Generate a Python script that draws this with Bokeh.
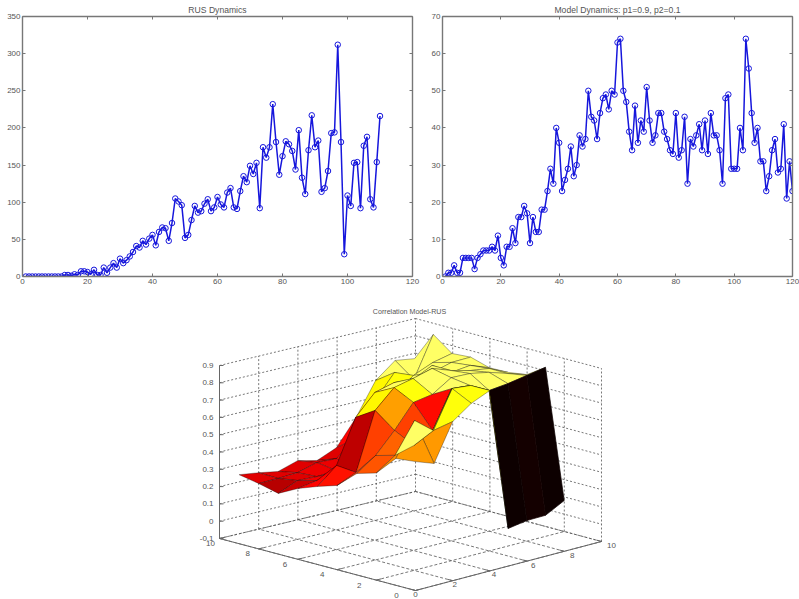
from bokeh.plotting import figure
from bokeh.layouts import column, row
from bokeh.models import LinearAxis, Range1d, FixedTicker
from bokeh.core.properties import value
from bokeh.embed import file_html
from bokeh.resources import INLINE
import numpy as np

FONT = "Liberation Sans"
TXT = "#555555"
AX = "#777777"
BLUE = "#1616dc"
nan = float("nan")

# ---- data -----------------------------------------------------------
rus = [0,0,0,0,0,0,0,0,0,0,0,0,2,2,1,3,2,7,7,6,3,9,2,2,12,5,12,18,12,24,18,22,27,33,41,39,48,43,51,56,
       42,60,66,65,48,72,105,101,96,52,56,76,95,86,88,98,104,88,93,107,97,93,113,119,93,91,115,135,127,149,
       138,153,92,174,160,174,232,181,137,162,182,178,169,144,197,133,111,170,217,174,183,114,119,142,193,194,312,181,30,109,
       95,153,154,92,176,188,104,93,154,216]
model = [0,1,1,3,1,1,5,5,5,5,2,5,6,7,7,7,8,7,11,5,3,8,8,13,9,16,16,19,17,9,16,12,12,18,18,23,29,25,40,36,
         23,26,29,35,27,30,38,35,37,50,43,42,37,44,48,49,45,50,49,63,64,50,47,39,34,46,36,42,39,51,
         42,36,38,44,44,39,37,34,33,44,32,34,43,25,37,35,38,41,34,42,33,44,38,38,34,25,48,49,29,29,
         29,40,34,64,56,44,36,40,31,31,23,27,34,37,28,29,41,21,31,23]

# surface heights: one list per y = 9 ... 0, columns x = 0 ... 9
z_y9 = [.299,.283,.263,.298,.272,.319,.466,.652,.741,.724]
z_y8 = [.278,.28,.286,.317,.312,.40,.594,.728,.66,.893]
z_y7 = [.251,.298,.293,.30,.274,.419,.65,.74,.787,.812]
z_y6 = [.309,.328,.347,.365,.447,.593,.738,.786,.817,.82]
z_y5 = [.351,.445,.695,.811,.84,.83,.884,.816,.829,.788]
z_y4 = [.387,.434,.765,.869,.894,.924,.884,.856,.84,.79]
z_y3 = [.486,.562,.679,.813,.831,.90,.896,.875,.84,.806]
z_y2 = [.519,.593,.622,.68,.894,.884,.827,.839,.858,.877]
z_y1 = [.633,.824,.738,.953,.942,.885,.059,.077,.079,.136]
z_y0 = [.645,.606,.82,.897,.943,nan,nan,nan,nan,nan]

# facet colour levels (0-1 on the hot map): rows y = 8 ... 0, columns x = 0 ... 8
c_y8 = [.33,.33,.33,.33,.33,.38,.74,.85,.85]
c_y7 = [.27,.33,.35,.35,.36,.5,.76,.85,.85]
c_y6 = [.3,.36,.36,.38,.45,.6,.85,.85,.85]
c_y5 = [.38,.38,.38,.4,.6,.85,.85,.85,.85]
c_y4 = [.4,.28,.74,.84,.85,.85,.85,.85,.85]
c_y3 = [.47,.47,.61,.76,.85,.85,.85,.85,.85]
c_y2 = [.5,.52,.47,.39,.85,.85,.85,.85,.85]
c_y1 = [.58,.85,.76,.76,.76,.76,.02,.03,.02]
c_y0 = [.6,.6,.76,.76,nan,nan,nan,nan,nan]

xticks2d = [0,20,40,60,80,100,120]
yticks_rus = [0,50,100,150,200,250,300,350]
yticks_model = [0,10,20,30,40,50,60,70]
ticks3d = [0,2,4,6,8,10]
zticks = [-0.1,0,0.1,0.2,0.3,0.4,0.5,0.6,0.7,0.8,0.9]

# ---- 2-D panels ------------------------------------------------------
def panel(series, yt, ymax, title, w, left, right):
    p = figure(width=w, height=295, x_range=Range1d(0,120), y_range=Range1d(0,ymax),
               output_backend="svg", toolbar_location=None, title=title,
               min_border_left=left, min_border_right=right, min_border_top=16, min_border_bottom=19,
               outline_line_color=None, background_fill_color="white", border_fill_color="white")
    p.title.align = "center"
    p.title.text_font = FONT
    p.title.text_font_size = "8.6px"
    p.title.text_font_style = "normal"
    p.title.text_color = TXT
    p.title.standoff = 4
    p.xgrid.visible = False
    p.ygrid.visible = False
    for ax, t in ((p.xaxis[0], xticks2d), (p.yaxis[0], yt)):
        ax.ticker = FixedTicker(ticks=t)
        ax.major_tick_in, ax.major_tick_out, ax.minor_tick_line_color = 3, 0, None
        ax.axis_line_color = AX
        ax.axis_line_width = 1.4
        ax.major_tick_line_color = AX
        ax.major_label_text_font = FONT
        ax.major_label_text_font_size = "8px"
        ax.major_label_text_color = TXT
        ax.major_label_standoff = 2
    for side, t in (("right", yt), ("above", xticks2d)):
        a = LinearAxis(ticker=FixedTicker(ticks=t), major_tick_in=3, major_tick_out=0,
                       minor_tick_line_color=None, axis_line_color=AX, axis_line_width=1.4,
                       major_tick_line_color=AX, major_label_overrides={v: "" for v in t},
                       major_label_standoff=0)
        p.add_layout(a, side)
    xs = list(range(1, len(series)+1))
    p.line(xs, series, line_color=BLUE, line_width=1.5)
    p.scatter(xs, series, size=5.5, marker="circle", fill_color=None, line_color=BLUE, line_width=1)
    return p

p1 = panel(rus, yticks_rus, 350, "RUS Dynamics", 425, 22, 13)
p2 = panel(model, yticks_model, 70, "Model Dynamics: p1=0.9, p2=0.1", 374, 17, 7)

# ---- 3-D panel -------------------------------------------------------
def proj(x, y, z):
    """Screen position of a point of the box (the view of the original plot)."""
    x, y, z = np.asarray(x, float), np.asarray(y, float), np.asarray(z, float)
    sx = 415 + 18.6*x - 19.6*y + 0.1*x*y
    sy = 590 - 4.9*x - 5.2*y + 0.02*x*y - 173*(z + 0.1)
    return sx, sy

p3 = figure(width=799, height=304, x_range=Range1d(0,799), y_range=Range1d(599,295),
            output_backend="svg", toolbar_location=None, outline_line_color=None,
            min_border=0, background_fill_color="white", border_fill_color="white")
p3.axis.visible = False
p3.grid.visible = False

zmin, zmax = zticks[0], zticks[-1]
def seg(a, b):
    sx, sy = proj([a[0], b[0]], [a[1], b[1]], [a[2], b[2]])
    return list(sx), list(sy)

wall, floor = [], []
for z in zticks:
    wall += [seg((0,10,z),(10,10,z)), seg((10,10,z),(10,0,z))]
for t in ticks3d[1:]:
    wall.append(seg((t,10,zmin),(t,10,zmax)))
for t in ticks3d[:-1]:
    wall.append(seg((10,t,zmin),(10,t,zmax)))
for t in ticks3d:
    floor += [seg((t,0,zmin),(t,10,zmin)), seg((0,t,zmin),(10,t,zmin))]
p3.multi_line([s[0] for s in wall], [s[1] for s in wall], line_color="#555555", line_width=0.8, line_dash="2 2")
p3.multi_line([s[0] for s in floor], [s[1] for s in floor], line_color="#555555", line_width=0.8, line_dash="3 2")

# solid axes and ticks
ax_segs = [seg((0,10,zmin),(0,10,zmax)), seg((0,10,zmin),(0,0,zmin)), seg((0,0,zmin),(10,0,zmin))]
for z in zticks:
    sx, sy = proj(0,10,z)
    ax_segs.append(([float(sx), float(sx)+4], [float(sy), float(sy)]))
for t in ticks3d:
    ax_segs.append(seg((0,t,zmin),(0.25,t,zmin)))
    ax_segs.append(seg((t,0,zmin),(t,0.25,zmin)))
p3.multi_line([s[0] for s in ax_segs], [s[1] for s in ax_segs], line_color="#666666", line_width=1)

# surface
Z = np.array([z_y0, z_y1, z_y2, z_y3, z_y4, z_y5, z_y6, z_y7, z_y8, z_y9])   # index [y, x]
C = np.array([c_y0, c_y1, c_y2, c_y3, c_y4, c_y5, c_y6, c_y7, c_y8])

def hot(t):
    r = min(1, t/.375); g = min(1, max(0, (t-.375)/.375)); b = min(1, max(0, (t-.75)/.25))
    return "#%02x%02x%02x" % (int(r*255), int(g*255), int(b*255))

top_facets = [(1, 1), (1, 2)]   # (y, x): the fold that hangs in front of the orange facets
cells = sorted(((j, i) for j in range(C.shape[0]) for i in range(C.shape[1]) if not np.isnan(C[j,i])),
               key=lambda c: (c in top_facets, -(c[0]+c[1])))
xs, ys, cols, edge, edge_a = [], [], [], [], []
for j, i in cells:
    gx = [i, i+1, i+1, i]
    gy = [j, j, j+1, j+1]
    gz = [Z[j,i], Z[j,i+1], Z[j+1,i+1], Z[j+1,i]]
    sx, sy = proj(gx, gy, gz)
    xs.append(list(sx)); ys.append(list(sy)); cols.append(hot(C[j,i]))
    dark = C[j,i] < 0.1
    edge.append(hot(C[j,i]) if dark else "#000000")
    edge_a.append(1.0 if dark else 0.45)
p3.patches(xs=xs, ys=ys, fill_color=cols, line_color=edge, line_alpha=edge_a, line_width=0.7)

# texts
def labels(px, py, txt, align):
    p3.text(px, py, text=txt, text_font=value(FONT), text_font_size=value("8px"), text_color=TXT,
            text_align=align, text_baseline="middle")

sx, sy = proj([0]*len(zticks), [10]*len(zticks), zticks)
labels(list(sx-6), list(sy), [("%g" % z) for z in zticks], "right")
sx, sy = proj([0]*len(ticks3d), ticks3d, [zmin]*len(ticks3d))
labels([float(a) - 19 + t for a, t in zip(sx, ticks3d)], list(sy+5), [str(t) for t in ticks3d], "center")
sx, sy = proj(ticks3d, [0]*len(ticks3d), [zmin]*len(ticks3d))
labels([float(a) + t for a, t in zip(sx, ticks3d)], list(sy+4), [str(t) for t in ticks3d], "center")
p3.text([409], [311], text=["Correlation Model-RUS"], text_font=value(FONT), text_font_size=value("7.1px"),
        text_color=TXT, text_align="center", text_baseline="middle")

page = column(row(p1, p2, spacing=0), p3, spacing=0)
open("out.html", "w").write(file_html(page, INLINE))
